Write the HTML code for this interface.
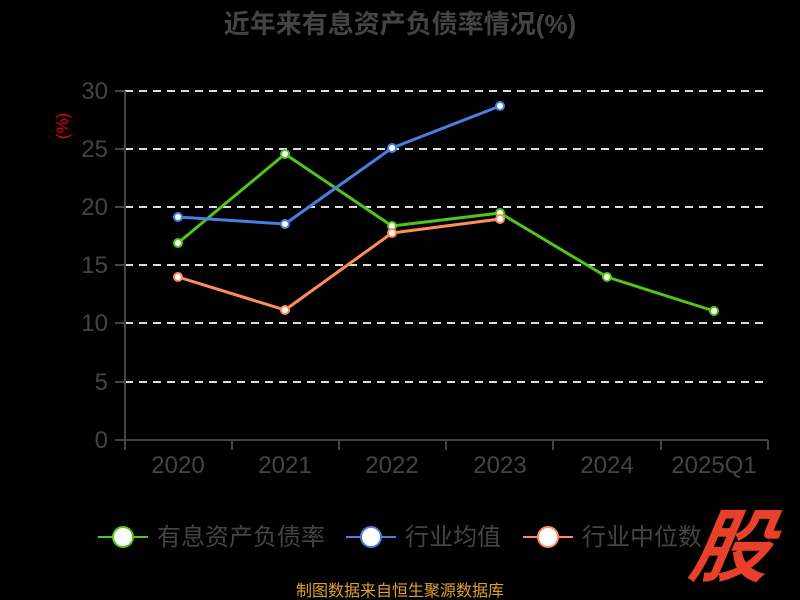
<!DOCTYPE html><html><head><meta charset="utf-8"><style>body{margin:0;background:#000;}svg{display:block}text{font-family:"Liberation Sans","Noto Sans CJK SC",sans-serif}</style></head><body>
<svg width="800" height="600" xmlns="http://www.w3.org/2000/svg">
<rect width="800" height="600" fill="#000"/>
<text x="400" y="33" text-anchor="middle" font-size="26" font-weight="bold" fill="#444">近年来有息资产负债率情况(%)</text>
<text transform="translate(68,126) rotate(-90)" text-anchor="middle" font-size="17" fill="#e00">(%)</text>
<g stroke="#ddd" stroke-width="2" stroke-dasharray="8,6">
<line x1="125" y1="91" x2="768" y2="91"/><line x1="125" y1="149" x2="768" y2="149"/><line x1="125" y1="207" x2="768" y2="207"/><line x1="125" y1="265" x2="768" y2="265"/><line x1="125" y1="323" x2="768" y2="323"/><line x1="125" y1="382" x2="768" y2="382"/></g>
<g stroke="#444" stroke-width="2"><line x1="125" y1="91" x2="125" y2="441"/><line x1="125" y1="440" x2="768" y2="440"/>
<line x1="115" y1="91" x2="125" y2="91"/><line x1="115" y1="149" x2="125" y2="149"/><line x1="115" y1="207" x2="125" y2="207"/><line x1="115" y1="265" x2="125" y2="265"/><line x1="115" y1="323" x2="125" y2="323"/><line x1="115" y1="382" x2="125" y2="382"/><line x1="115" y1="440" x2="125" y2="440"/>
<line x1="125" y1="440" x2="125" y2="450"/><line x1="232" y1="440" x2="232" y2="450"/><line x1="339" y1="440" x2="339" y2="450"/><line x1="446" y1="440" x2="446" y2="450"/><line x1="553" y1="440" x2="553" y2="450"/><line x1="661" y1="440" x2="661" y2="450"/><line x1="768" y1="440" x2="768" y2="450"/></g>
<g font-size="24" fill="#444" text-anchor="end"><text x="108" y="99">30</text><text x="108" y="157">25</text><text x="108" y="215">20</text><text x="108" y="273">15</text><text x="108" y="331">10</text><text x="108" y="390">5</text><text x="108" y="448">0</text></g>
<g font-size="24" fill="#444" text-anchor="middle"><text x="178" y="473">2020</text><text x="285" y="473">2021</text><text x="392" y="473">2022</text><text x="500" y="473">2023</text><text x="607" y="473">2024</text><text x="714" y="473">2025Q1</text></g>
<g fill="none" stroke-width="3" stroke-linejoin="round">
<polyline stroke="#52c41a" points="178,243 285,154 392,226 500,213 607,277 714,311"/>
<polyline stroke="#4a7fdf" points="178,217 285,224 392,148 500,106"/>
<polyline stroke="#ff8c5a" points="178,277 285,310 392,233 500,219"/></g>
<g fill="#fff" stroke-width="2">
<g stroke="#52c41a"><circle cx="178" cy="243" r="4"/><circle cx="285" cy="154" r="4"/><circle cx="392" cy="226" r="4"/><circle cx="500" cy="213" r="4"/><circle cx="607" cy="277" r="4"/><circle cx="714" cy="311" r="4"/></g>
<g stroke="#4a7fdf"><circle cx="178" cy="217" r="4"/><circle cx="285" cy="224" r="4"/><circle cx="392" cy="148" r="4"/><circle cx="500" cy="106" r="4"/></g>
<g stroke="#ff8c5a"><circle cx="178" cy="277" r="4"/><circle cx="285" cy="310" r="4"/><circle cx="392" cy="233" r="4"/><circle cx="500" cy="219" r="4"/></g></g>
<g stroke-width="2">
<line x1="98" y1="537" x2="148" y2="537" stroke="#52c41a"/><circle cx="123" cy="537" r="10" fill="#fff" stroke="#52c41a"/>
<line x1="346" y1="537" x2="396" y2="537" stroke="#4a7fdf"/><circle cx="371" cy="537" r="10" fill="#fff" stroke="#4a7fdf"/>
<line x1="523" y1="537" x2="573" y2="537" stroke="#ff8c5a"/><circle cx="548" cy="537" r="10" fill="#fff" stroke="#ff8c5a"/></g>
<g font-size="24" fill="#444"><text x="157" y="545">有息资产负债率</text><text x="405" y="545">行业均值</text><text x="582" y="545">行业中位数</text></g>
<text x="736" y="575" text-anchor="middle" font-size="80" font-weight="bold" font-style="italic" fill="#e8402a" transform="translate(736,0) skewX(-10) translate(-736,0) translate(92,0)">股</text>
<text x="400" y="596" text-anchor="middle" font-size="16" fill="#e0a030">制图数据来自恒生聚源数据库</text>
</svg></body></html>
